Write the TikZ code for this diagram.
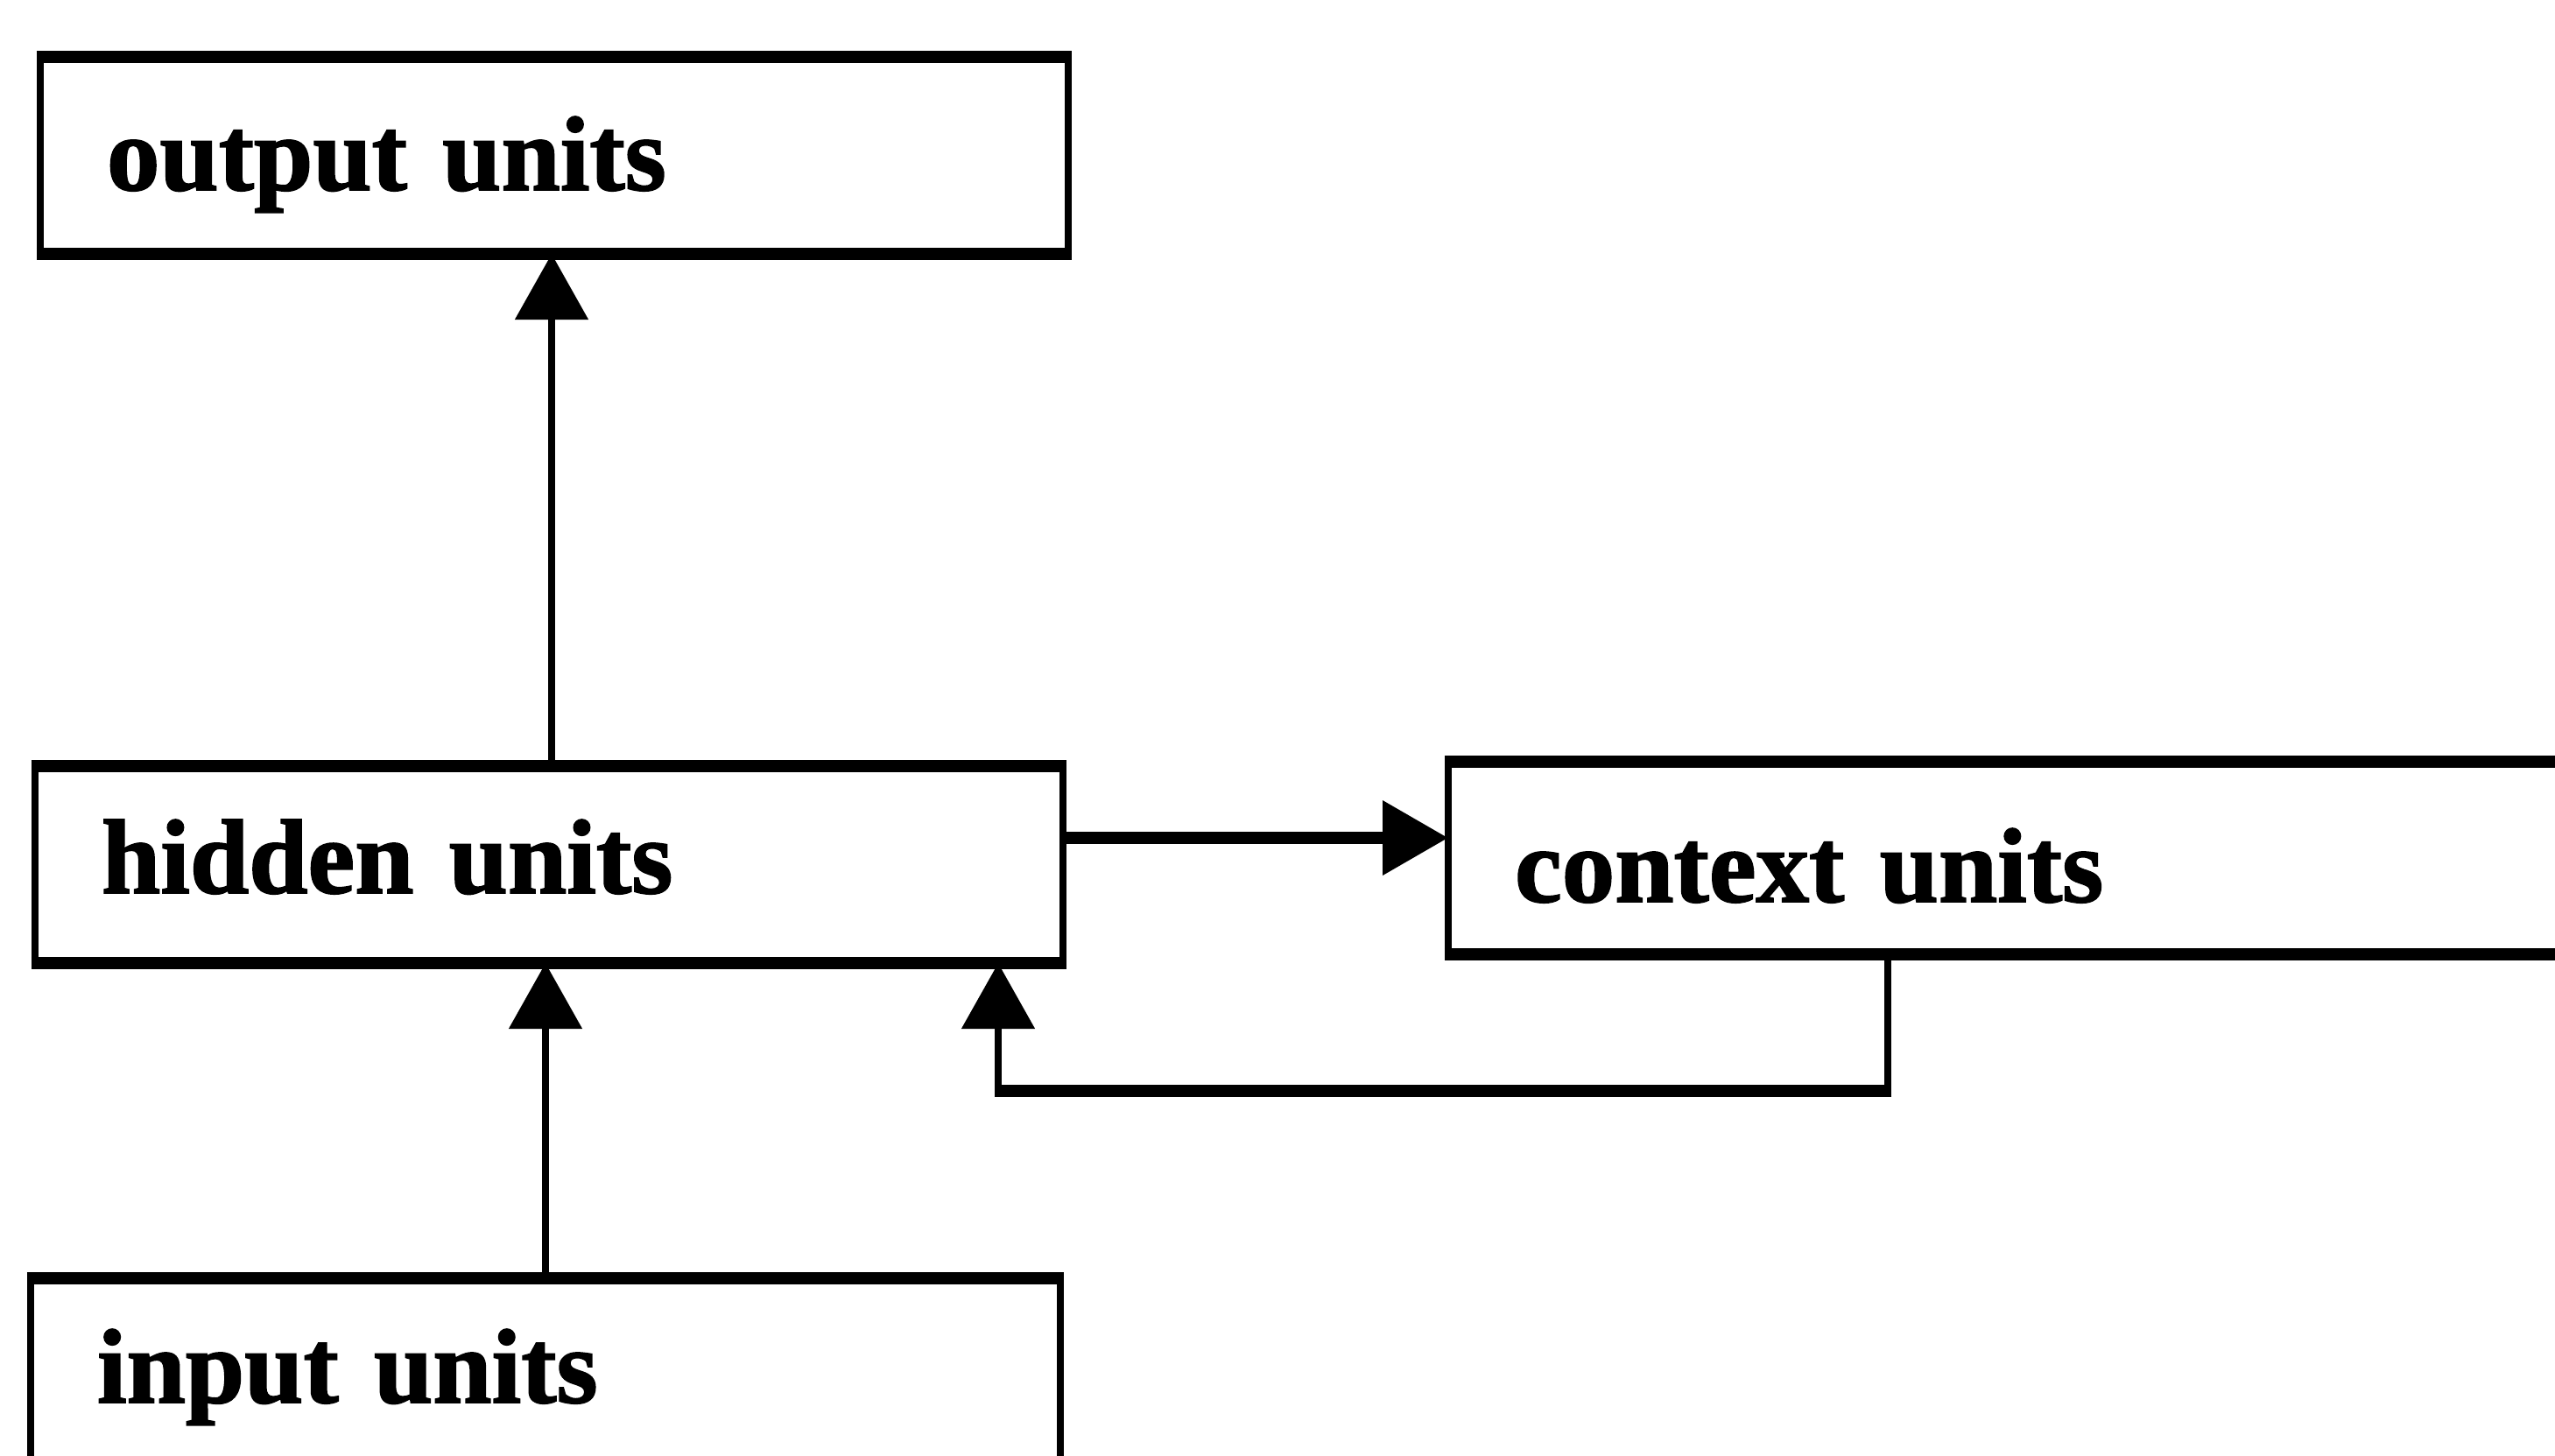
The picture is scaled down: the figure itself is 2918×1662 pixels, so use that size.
\documentclass[tikz,border=0pt]{standalone}
\usepackage{fontspec}
\setmainfont{Liberation Serif}
\newfontface\unitfont{Liberation Serif Bold}[FakeBold=1.5]
\usetikzlibrary{arrows.meta}
\begin{document}
\begin{tikzpicture}[x=0.25pt,y=-0.25pt,
  unitbox/.style={draw, line width=2.1pt, outer sep=0pt, inner xsep=19pt,
    inner ysep=0pt, anchor=north west, align=left,
    font=\fontsize{30.25pt}{36pt}\unitfont},
  heavyedge/.style={line width=3.5pt, shorten <=-1.05pt, shorten >=-1.05pt},
  vconn/.style={line width=2.1pt, -{Triangle[length=18.75pt,width=20.5pt]}},
  hconn/.style={line width=3.5pt, -{Triangle[length=18.75pt,width=20.5pt]}}]
  \useasboundingbox (0,0) rectangle (2918,1662);
  \fill[white] (0,0) rectangle (2918,1662);
  \clip (0,0) rectangle (2918,1662);

  % layers of the network
  \node[unitbox, text width=255.5pt, text height=38pt, text depth=18.25pt]
    (output) at (46,65) {output units};
  \node[unitbox, text width=255.5pt, text height=36.25pt, text depth=20pt]
    (hidden) at (40,875) {hidden units};
  \node[unitbox, text width=337pt, text height=40pt, text depth=15pt]
    (context) at (1654,870) {context units};
  \node[unitbox, text width=256pt, text height=35.5pt, text depth=17pt]
    (input) at (35,1460) {input units};

  % heavier horizontal edges of the boxes
  \foreach \layer in {output,hidden,context,input}{
    \draw[heavyedge] (\layer.north west) -- (\layer.north east);
    \draw[heavyedge] (\layer.south west) -- (\layer.south east);
  }

  % feed-forward connections
  \coordinate (ux) at (630,0);
  \coordinate (lx) at (623,0);
  \draw[vconn] (hidden.north -| ux) -- (output.south -| ux);
  \draw[vconn] (input.north -| lx) -- (hidden.south -| lx);

  % copy to the context layer
  \coordinate (hc) at (0,957);
  \draw[hconn] (hidden.east |- hc) -- (context.west |- hc);

  % recurrent feedback from context to hidden
  \coordinate (fbr) at (2156,1246);
  \coordinate (fbl) at (1140,1246);
  \draw[vconn] (context.south -| fbr) -- (fbr) -- (fbl) -- (hidden.south -| fbl);
  \draw[heavyedge] (fbr) -- (fbl);
\end{tikzpicture}
\end{document}
